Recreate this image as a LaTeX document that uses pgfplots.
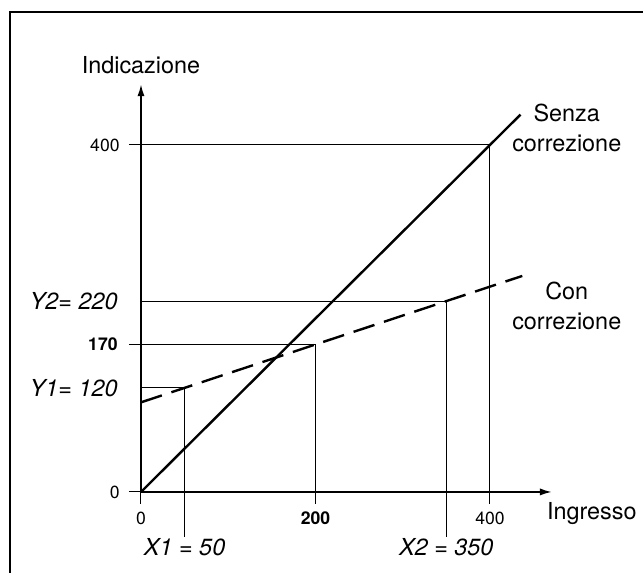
\documentclass[border=0pt]{standalone}
\usepackage{pgfplots}
\pgfplotsset{compat=1.18}
\usepackage{fontspec}
\setmainfont{TeX Gyre Heros}
\usetikzlibrary{arrows.meta}

\newcommand{\lbl}{\fontsize{11.7}{15}\selectfont}
\newcommand{\tlbl}{\fontsize{8.8}{10}\selectfont}

\begin{document}
\begin{tikzpicture}
\begin{axis}[
  x=0.4363pt, y=0.4338pt,
  xmin=0, xmax=471, ymin=0, ymax=470,
  axis lines=left,
  axis line style={line width=0.9pt, -{Latex[length=6pt,width=3.6pt]}},
  clip=false,
  xtick={0,200,400}, xticklabels={},
  ytick={0,170,400}, yticklabels={},
  tick align=outside, major tick length=6pt,
  tick style={line width=0.5pt, black},
]
% guide lines
\addplot[line width=0.5pt] coordinates {(0,400) (400,400) (400,0)};
\addplot[line width=0.5pt] coordinates {(0,220) (350,220) (350,-52)};
\addplot[line width=0.5pt] coordinates {(0,170) (200,170) (200,0)};
\addplot[line width=0.5pt] coordinates {(0,120) (50,120) (50,-52)};
% the two characteristics
\addplot[line width=1.2pt] coordinates {(0,0) (435,435)};
\addplot[line width=1.2pt, dash pattern=on 11pt off 5pt] coordinates {(0,103.3) (437,249)};

% tick labels
\node[font=\tlbl, inner sep=0pt] at (axis cs:0,-30) {0};
\node[font=\tlbl\bfseries, inner sep=0pt] at (axis cs:200,-30) {200};
\node[font=\tlbl, inner sep=0pt] at (axis cs:400,-30) {400};
\node[font=\tlbl, anchor=east, inner sep=0pt, xshift=-10.5pt] at (axis cs:0,0) {0};
\node[font=\tlbl\bfseries, anchor=east, inner sep=0pt, xshift=-11.5pt] at (axis cs:0,170) {170};
\node[font=\tlbl, anchor=east, inner sep=0pt, xshift=-10.5pt] at (axis cs:0,400) {400};

% labels
\node[font=\lbl, anchor=south, yshift=1.5pt] at (axis cs:0,470) {Indicazione};
\node[font=\lbl, anchor=west, inner sep=0pt] at (axis cs:465,-24.5) {Ingresso};
\node[font=\lbl, align=center] at (axis cs:488,420) {Senza\\correzione};
\node[font=\lbl, align=center] at (axis cs:488,215) {Con\\correzione};
\node[font=\lbl\itshape, anchor=east, inner sep=0pt, xshift=-11.5pt] at (axis cs:0,220) {Y2= 220};
\node[font=\lbl\itshape, anchor=east, inner sep=0pt, xshift=-11.5pt] at (axis cs:0,120) {Y1= 120};
\node[font=\lbl\itshape, anchor=north, inner sep=0pt, yshift=-0.5pt] at (axis cs:50,-52) {X1 = 50};
\node[font=\lbl\itshape, anchor=north, inner sep=0pt, yshift=-0.5pt] at (axis cs:350,-52) {X2 = 350};

% outer frame
\draw[line width=0.8pt] (axis cs:-150.1,-130) -- (axis cs:-150.1,553.3) -- (axis cs:620,553.3);
\coordinate (bbsw) at (axis cs:-161.6,-93.4);
\coordinate (bbne) at (axis cs:575.4,567.1);
\end{axis}
\pgfresetboundingbox
\path[use as bounding box] (bbsw) rectangle (bbne);
\end{tikzpicture}
\end{document}
